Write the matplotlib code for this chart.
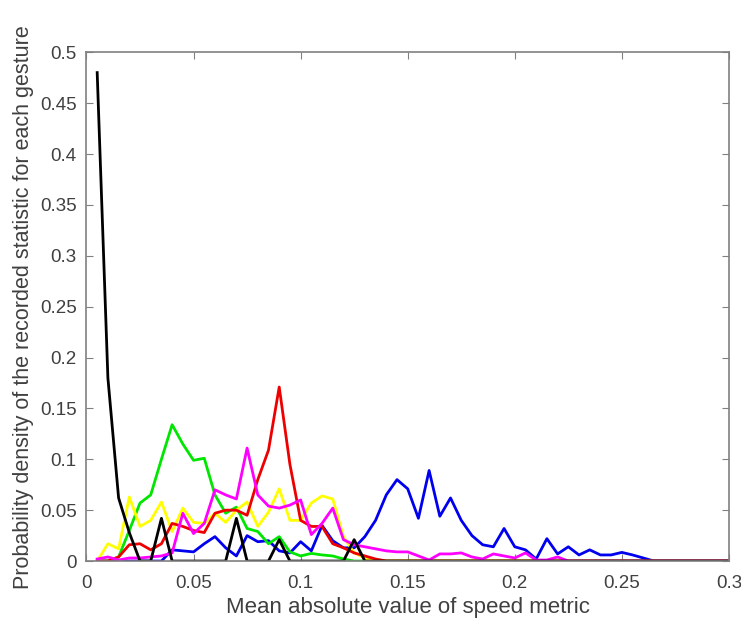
"""Probability density of a speed statistic per gesture, MATLAB-style line plot."""

import numpy as np
import matplotlib.pyplot as plt

plt.switch_backend("Agg")
plt.rcParams["font.family"] = ["Liberation Sans", "DejaVu Sans"]

# bin centres: 0.005 .. 0.300
speed = np.arange(1, 61) * 0.005

blue = [0, 0, 0, 0, 0, 0, 0, 0.011, 0.010, 0.009,
        0.017, 0.024, 0.013, 0.005, 0.025, 0.019, 0.020, 0.010, 0.008, 0.019,
        0.010, 0.035, 0.020, 0.013, 0.013, 0.024, 0.040, 0.065, 0.080, 0.071,
        0.042, 0.089, 0.044, 0.062, 0.040, 0.025, 0.016, 0.014, 0.032, 0.014,
        0.011, 0.002, 0.022, 0.007, 0.014, 0.006, 0.011, 0.006, 0.006, 0.0085,
        0.006, 0.003, 0, 0, 0, 0, 0, 0, 0, 0]
green = [0, 0, 0.004, 0.030, 0.057, 0.065, 0.100, 0.134, 0.115, 0.099,
         0.101, 0.065, 0.047, 0.053, 0.032, 0.029, 0.017, 0.024, 0.009, 0.005,
         0.0075, 0.006, 0.005, 0.002, 0, 0, 0, 0, 0, 0,
         0, 0, 0, 0, 0, 0, 0, 0, 0, 0,
         0, 0, 0, 0, 0, 0, 0, 0, 0, 0,
         0, 0, 0, 0, 0, 0, 0, 0, 0, 0]
yellow = [0, 0.017, 0.012, 0.063, 0.034, 0.040, 0.058, 0.029, 0.052, 0.038,
          0.037, 0.047, 0.038, 0.050, 0.058, 0.034, 0.048, 0.071, 0.040, 0.040,
          0.057, 0.064, 0.061, 0.024, 0.008, 0.003, 0, 0, 0, 0,
          0, 0, 0, 0, 0, 0, 0, 0, 0, 0,
          0, 0, 0, 0, 0, 0, 0, 0, 0, 0,
          0, 0, 0, 0, 0, 0, 0, 0, 0, 0]
red = [0, 0, 0.004, 0.016, 0.017, 0.011, 0.017, 0.037, 0.034, 0.030,
       0.028, 0.047, 0.050, 0.050, 0.045, 0.080, 0.109, 0.171, 0.095, 0.040,
       0.034, 0.034, 0.017, 0.013, 0.008, 0.005, 0.002, 0, 0, 0,
       0, 0, 0, 0, 0, 0, 0, 0, 0, 0,
       0, 0, 0, 0, 0, 0, 0, 0, 0, 0,
       0, 0, 0, 0, 0, 0, 0, 0, 0, 0]
magenta = [0.002, 0.004, 0.001, 0.003, 0.003, 0.004, 0.005, 0.008, 0.047, 0.027,
           0.037, 0.070, 0.065, 0.061, 0.111, 0.065, 0.054, 0.052, 0.055, 0.060,
           0.026, 0.037, 0.052, 0.021, 0.016, 0.014, 0.012, 0.010, 0.009, 0.009,
           0.005, 0.001, 0.007, 0.007, 0.008, 0.004, 0.002, 0.007, 0.005, 0.003,
           0.008, 0.001, 0.001, 0.004, 0, 0, 0, 0, 0, 0,
           0, 0, 0, 0, 0, 0, 0, 0, 0, 0]
black = [0.480, 0.180, 0.062, 0.028, 0, 0, 0.042, 0, 0, 0,
         0, 0, 0, 0.042, 0, 0, 0, 0.021, 0, 0,
         0, 0, 0, 0, 0.021, 0, 0, 0, 0, 0,
         0, 0, 0, 0, 0, 0, 0, 0, 0, 0,
         0, 0, 0, 0, 0, 0, 0, 0, 0, 0,
         0, 0, 0, 0, 0, 0, 0, 0, 0, 0]

series = [(blue, "#0000ee"), (green, "#00e600"), (yellow, "#ffff00"),
          (red, "#ee0000"), (magenta, "#ff00ff"), (black, "#000000")]

fig = plt.figure(figsize=(7.41, 6.22), dpi=100)
ax = fig.add_axes([0.1167, 0.098, 0.867, 0.818])
for vals, col in series:
    ax.plot(speed, vals, color=col, lw=2)

ax.set_xlim(0, 0.3)
ax.set_ylim(0, 0.5)
ax.set_xticks(np.arange(0, 0.301, 0.05))
ax.set_xticklabels(["0", "0.05", "0.1", "0.15", "0.2", "0.25", "0.3"])
ax.set_yticks(np.arange(0, 0.501, 0.05))
ax.set_yticklabels(["0", "0.05", "0.1", "0.15", "0.2", "0.25", "0.3",
                    "0.35", "0.4", "0.45", "0.5"])
ax.tick_params(direction="in", top=True, right=True, length=5, width=0.8,
               colors="#808080", labelcolor="#404040", labelsize=13.5, pad=7)
ax.tick_params(axis="x", pad=10)
for s in ax.spines.values():
    s.set_color("#808080")
    s.set_linewidth(1.2)

ax.set_xlabel("Mean absolute value of speed metric", fontsize=16,
              color="#404040", labelpad=4)
ax.set_ylabel("Probability density of the recorded statistic for each gesture",
              fontsize=15.5, color="#404040", labelpad=4)

fig.savefig("out.png", dpi=100)
